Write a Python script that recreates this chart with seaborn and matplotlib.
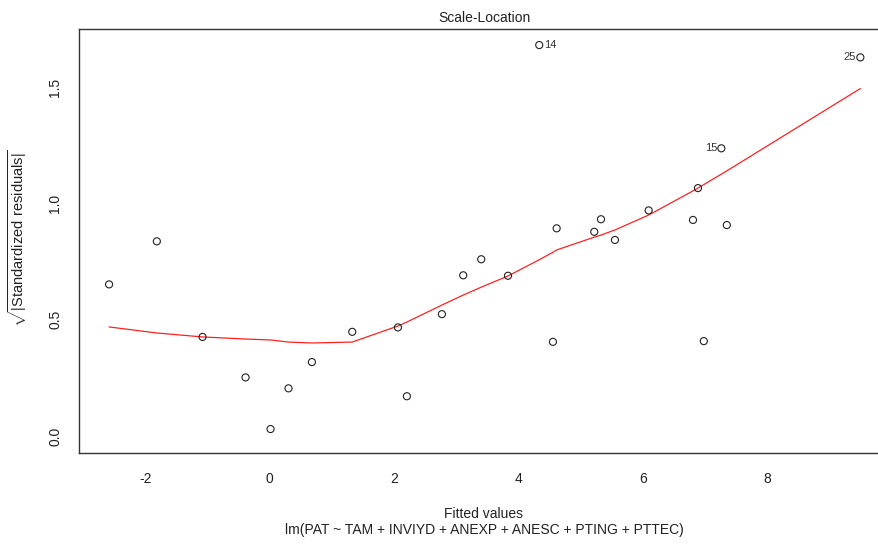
import matplotlib
matplotlib.use("Agg")
import matplotlib.pyplot as plt
import seaborn as sns
import pandas as pd

# Fitted values and sqrt(|standardized residuals|) per observation
fitted = [-2.586, -1.818, -1.083, -0.391, 0.011, 0.300, 0.676, 1.325, 2.060,
          2.204, 2.767, 3.110, 3.400, 3.830, 4.333, 4.553, 4.613, 5.218,
          5.326, 5.551, 6.093, 6.806, 6.886, 6.980, 7.262, 7.350, 9.498]
sqrt_std_resid = [0.652, 0.837, 0.426, 0.252, 0.030, 0.205, 0.318, 0.448, 0.467,
                  0.171, 0.524, 0.691, 0.760, 0.689, 1.681, 0.405, 0.893, 0.878,
                  0.932, 0.843, 0.970, 0.929, 1.066, 0.408, 1.237, 0.907, 1.628]
# Smoother evaluated at the sorted fitted values
smooth = [0.469, 0.443, 0.426, 0.417, 0.413, 0.404, 0.400, 0.404, 0.473,
          0.490, 0.563, 0.606, 0.640, 0.688, 0.758, 0.790, 0.800, 0.855,
          0.864, 0.886, 0.950, 1.054, 1.066, 1.081, 1.126, 1.140, 1.494]

# Observations flagged with their index
flagged = {"14": (4.333, 1.681, "right"), "15": (7.262, 1.237, "left"),
           "25": (9.498, 1.628, "left")}

x_ticks = [-2, 0, 2, 4, 6, 8]
y_ticks = [0.0, 0.5, 1.0, 1.5]

pts = pd.DataFrame({"fitted": fitted, "resid": sqrt_std_resid})
curve = pd.DataFrame({"fitted": fitted, "smooth": smooth})

sns.set_style("white")
plt.rcParams["font.family"] = ["Liberation Sans", "DejaVu Sans"]
plt.rcParams["mathtext.fontset"] = "custom"
plt.rcParams["mathtext.rm"] = "Liberation Sans"

fig = plt.figure(figsize=(8.79, 5.44), dpi=100)
ax = fig.add_axes([79 / 879, 91 / 544, 810.7 / 879, 424 / 544])

sns.scatterplot(data=pts, x="fitted", y="resid", ax=ax, marker="o",
                s=26, facecolor="none", edgecolor="#222222", linewidth=0.8,
                zorder=3)
sns.lineplot(data=curve, x="fitted", y="smooth", ax=ax, sort=False,
             estimator=None, color="#ff2020", linewidth=0.9, zorder=2)

for lab, (fx, fy, side) in flagged.items():
    off = 0.07 if side == "right" else -0.07
    ax.text(fx + off, fy, lab, ha="left" if side == "right" else "right",
            va="center", fontsize=8, color="#333333")

ax.set_xlim(-3.07, 9.97)
ax.set_ylim(-0.073, 1.75)
ax.set_xticks(x_ticks)
ax.set_xticklabels([str(t) for t in x_ticks])
ax.set_yticks(y_ticks)
ax.set_yticklabels([f"{t:.1f}" for t in y_ticks], rotation=90, va="center")
ax.tick_params(axis="both", direction="out", length=7, width=0.9,
               color="#333333", labelsize=10, labelcolor="#222222")
ax.tick_params(axis="x", pad=7)
ax.tick_params(axis="y", pad=5)

for side in ["left", "bottom", "top", "right"]:
    ax.spines[side].set_visible(True)
    ax.spines[side].set_color("#333333")
    ax.spines[side].set_linewidth(1.0)

ax.set_xlabel("")
ax.set_ylabel("")
ax.set_title("Scale-Location", fontsize=10, color="#222222", pad=5)

fig.text(484 / 879, 1 - 514 / 544, "Fitted values", ha="center", va="center",
         fontsize=10, color="#222222")
fig.text(484 / 879, 1 - 530 / 544,
         "lm(PAT ~ TAM + INVIYD + ANEXP + ANESC + PTING + PTTEC)",
         ha="center", va="center", fontsize=10, color="#222222")
fig.text(18 / 879, 1 - 238 / 544,
         r"$\sqrt{|\mathrm{Standardized\ residuals}|}$",
         rotation=90, ha="center", va="center", fontsize=10.5, color="#222222")

fig.savefig("out.png", dpi=100, facecolor="white")
